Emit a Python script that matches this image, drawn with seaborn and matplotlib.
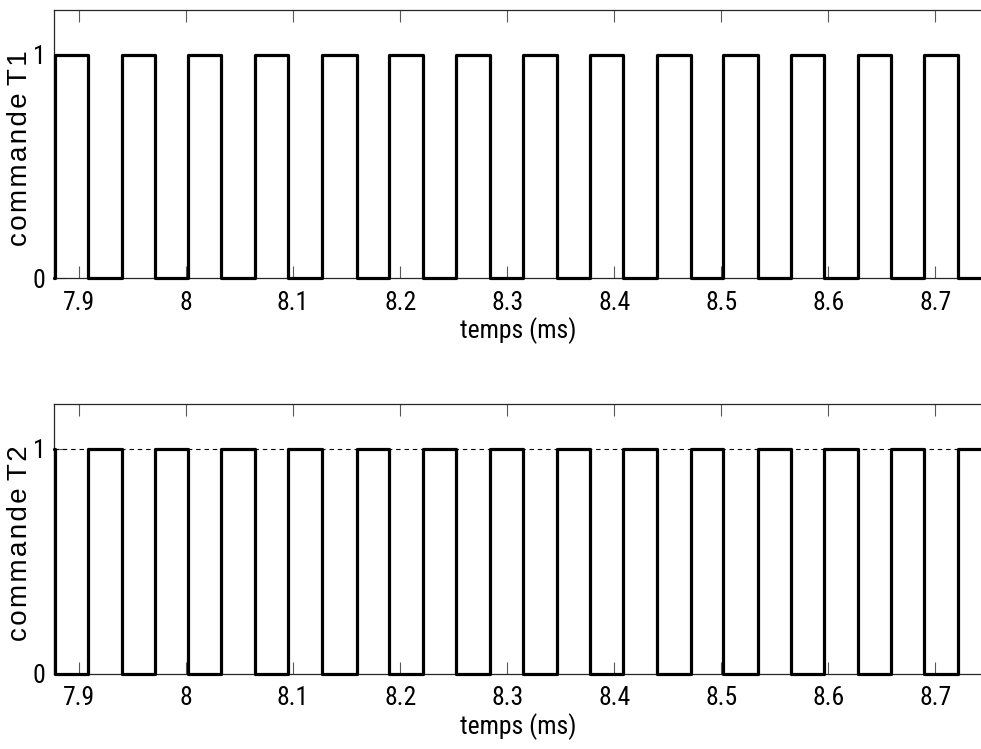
import matplotlib
matplotlib.use("Agg")
import matplotlib.pyplot as plt
from matplotlib.ticker import FixedLocator, FixedFormatter
import seaborn as sns

# ---- data ----
time_ms = [7.8766, 7.8775, 7.9087, 7.9405, 7.9710, 8.0021, 8.0327, 8.0644,
           8.0955, 8.1267, 8.1594, 8.1899, 8.2217, 8.2522, 8.2840, 8.3151,
           8.3463, 8.3774, 8.4085, 8.4397, 8.4718, 8.5019, 8.5346, 8.5652,
           8.5963, 8.6275, 8.6586, 8.6897, 8.7215, 8.7450]
cmd_T1 = [0, 1, 0, 1, 0, 1, 0, 1, 0, 1, 0, 1, 0, 1, 0, 1, 0, 1, 0, 1,
          0, 1, 0, 1, 0, 1, 0, 1, 0, 0]
cmd_T2 = [1, 0, 1, 0, 1, 0, 1, 0, 1, 0, 1, 0, 1, 0, 1, 0, 1, 0, 1, 0,
          1, 0, 1, 0, 1, 0, 1, 0, 1, 1]
t2_ref_level = 1.0

x_ticks = [7.9, 8.0, 8.1, 8.2, 8.3, 8.4, 8.5, 8.6, 8.7]
x_tick_labels = ["7.9", "8", "8.1", "8.2", "8.3", "8.4", "8.5", "8.6", "8.7"]
y_ticks = [0, 1]
y_tick_labels = ["0", "1"]
x_label = "temps (ms)"
y_labels = ["commande T1", "commande T2"]

# ---- style ----
sns.set_theme(style="ticks")
NARROW = ["Roboto Condensed", "Archivo Narrow", "Liberation Sans", "DejaVu Sans"]
plt.rcParams["font.family"] = NARROW

fig = plt.figure(figsize=(9.81, 7.49), dpi=100)
W, H = 981.0, 749.0
ax1 = fig.add_axes([54 / W, 1 - 278.3 / H, 929.5 / W, 268 / H])
ax2 = fig.add_axes([54 / W, 1 - 673.7 / H, 929.5 / W, 270 / H])

HS = "\u200a"  # hair space, to mimic the letter spacing of the y labels


def spaced(s):
    return " ".join(HS.join(w) for w in s.split(" "))


for ax, levels, ylab in [(ax1, cmd_T1, y_labels[0]), (ax2, cmd_T2, y_labels[1])]:
    if ax is ax2:
        ax.axhline(t2_ref_level, color="black", lw=0.8,
                   linestyle=(0, (4, 3.5)), zorder=1)
    sns.lineplot(x=time_ms, y=levels, drawstyle="steps-post", color="black",
                 lw=2.3, ax=ax, clip_on=False, zorder=3, errorbar=None)
    ax.set_xlim(time_ms[0], time_ms[-1])
    ax.set_ylim(0, 1.2)
    ax.xaxis.set_major_locator(FixedLocator(x_ticks))
    ax.xaxis.set_major_formatter(FixedFormatter(x_tick_labels))
    ax.yaxis.set_major_locator(FixedLocator(y_ticks))
    ax.yaxis.set_major_formatter(FixedFormatter(y_tick_labels))
    ax.tick_params(axis="both", which="major", direction="in", length=8.5,
                   width=0.8, color="0.35", labelsize=18.5, labelcolor="black")
    ax.tick_params(axis="x", top=True, pad=9)
    ax.tick_params(axis="y", right=False, pad=6)
    for sp in ax.spines.values():
        sp.set_linewidth(0.9)
        sp.set_color("0.15")
    ax.set_xlabel(x_label, fontsize=18.5, labelpad=2, color="black")
    ax.set_ylabel(spaced(ylab), fontsize=20, color="black",
                  family=["Liberation Sans", "DejaVu Sans"])
    ax.yaxis.set_label_coords(-0.0228, 0.484)

fig.savefig("out.png", dpi=100)
